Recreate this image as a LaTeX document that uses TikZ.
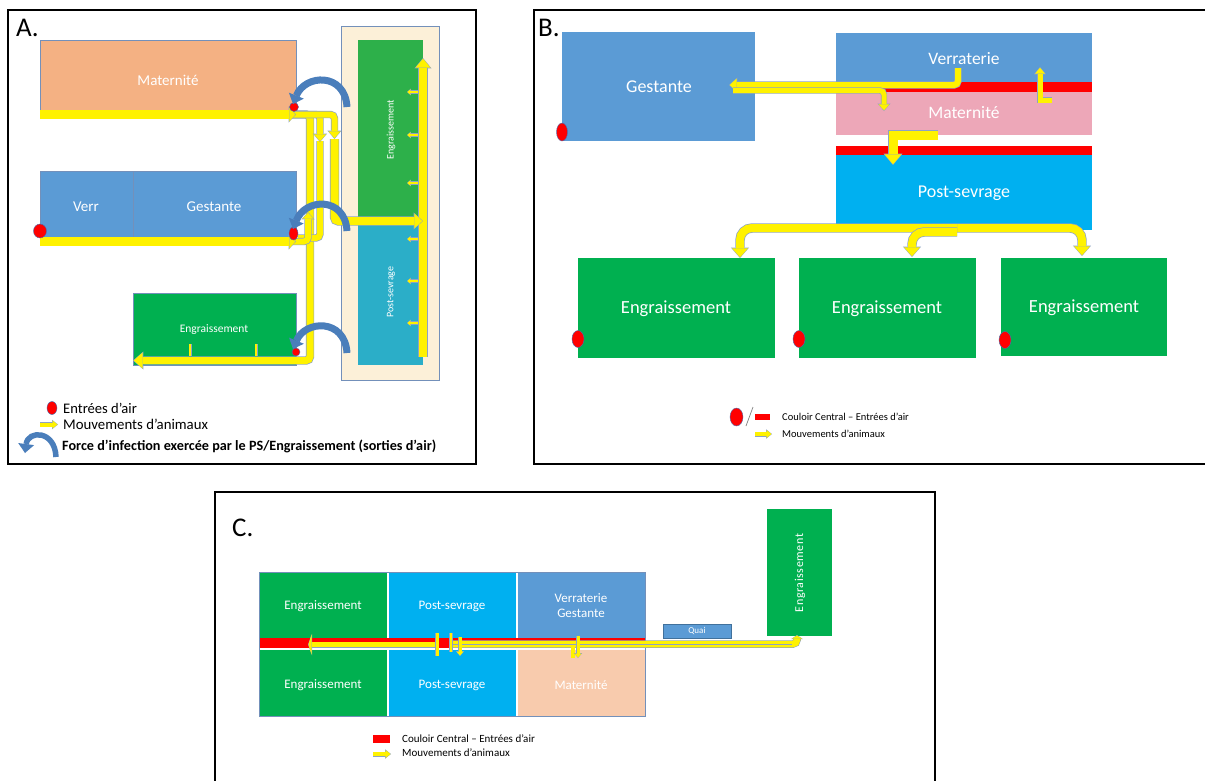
\documentclass[tikz,border=0pt]{standalone}
\usepackage{fontspec}
\setmainfont{Carlito}
\usetikzlibrary{arrows.meta}

\definecolor{cMat}{HTML}{F4B183}
\definecolor{cSow}{HTML}{5B9BD5}
\definecolor{cFat}{HTML}{00B050}
\definecolor{cBeige}{HTML}{FCF0D8}
\definecolor{cFatLight}{HTML}{2DB04A}
\definecolor{cTeal}{HTML}{2BAEC8}
\definecolor{cCyan}{HTML}{00B0F0}
\definecolor{cPink}{HTML}{EDA7B8}
\definecolor{cPeach}{HTML}{F8CBAD}
\definecolor{cRoomEdge}{HTML}{7390BA}
\definecolor{cYEdge}{HTML}{8DA2C4}
\definecolor{cInf}{HTML}{4A7EBB}
\definecolor{cDotEdge}{HTML}{4A6FB0}
\definecolor{cQuaiEdge}{HTML}{41719C}

\newcommand\fsz[1]{\fontsize{#1}{\fpeval{1.2*#1}}\selectfont}

% outlined yellow movement arrow: [outline]{band width}{head width}{head length}{path}
\newcommand\yarr[5][0.7]{%
  \pgfmathsetlengthmacro\yaW{#2pt+2*#1pt}%
  \pgfmathsetlengthmacro\yaH{#3pt+3*#1pt}%
  \pgfmathsetlengthmacro\yaL{#4pt+2*#1pt}%
  \draw[yedge, line width=\yaW, -{Triangle[width=\yaH,length=\yaL,line width=0pt]}] #5;
  \draw[ybody, line width=#2pt, shorten >=#1pt, -{Triangle[width=#3pt,length=#4pt,line width=0pt]}] #5;}
% outlined yellow band without head
\newcommand\yband[3][0.7]{%
  \pgfmathsetlengthmacro\yaW{#2pt+2*#1pt}%
  \draw[yedge, line width=\yaW] #3;
  \draw[ybody, line width=#2pt] #3;}

\tikzset{
  frame/.style={draw=black, line width=1.4pt},
  plabel/.style={anchor=base west, inner sep=0pt, font=\fsz{27}},
  room/.style={anchor=north west, inner sep=0pt, outer sep=0pt},
  roomA/.style={room, draw=cRoomEdge, line width=0.6pt},
  rtxt/.style={text=white, inner sep=0pt, align=center},
  vlabel/.style={rotate=90, text=white, inner sep=0pt},
  legend/.style={anchor=west, inner sep=0pt},
  yedge/.style={draw=cYEdge, rounded corners=4pt},
  ybody/.style={draw=yellow, rounded corners=4pt},
  airdot/.style={fill=red, draw=cDotEdge, line width=0.4pt},
  infect/.style={draw=cInf, line width=7pt, -{Triangle[width=16pt,length=9pt,line width=0pt]}},
}

\begin{document}
\begin{tikzpicture}[x=1pt,y=-1pt]
\useasboundingbox (0,0) rectangle (1205,780);
\fill[white] (0,0) rectangle (1205,780);

% ---------- panel frames ----------
\draw[frame] (8,10) rectangle (476,464);
\draw[frame] (1208,10) -- (534,10) -- (534,464) -- (1208,464);
\draw[frame] (215,783) -- (215,492) -- (935,492) -- (935,783);
\node[plabel] (labA) at (16,36) {A.};
\node[plabel] (labB) at (538,36) {B.};
\node[plabel] (labC) at (232,536) {C.};

% ================= A =================
\node[roomA, fill=cMat, minimum width=256pt, minimum height=70pt] (matA) at (40,40) {};
\node[roomA, fill=cSow, minimum width=93pt, minimum height=66pt] (verrA) at (40,171) {};
\node[roomA, fill=cSow, minimum width=163pt, minimum height=66pt] (gestA) at (133,171) {};
\node[roomA, fill=cFat, minimum width=163pt, minimum height=72pt] (engA) at (133,293) {};
\node[rtxt, font=\fsz{15}] (matAt) at (168,80) {Maternité};
\node[rtxt, font=\fsz{15}] (verrAt) at (86,207) {Verr};
\node[rtxt, font=\fsz{15}] (gestAt) at (214,207) {Gestante};
\node[rtxt, font=\fsz{11.5}] (engAt) at (214,330) {Engraissement};
\node[room, fill=cBeige, draw=cRoomEdge, line width=0.7pt, minimum width=98pt, minimum height=354pt] (annex) at (341,26) {};
\node[room, fill=cFatLight, minimum width=65pt, minimum height=181pt] (engR) at (358,40) {};
\node[room, fill=cTeal, minimum width=65pt, minimum height=144pt] (psR) at (358,221) {};
\node[vlabel, font=\fsz{10}] (engRtxt) at (391,130) {Engraissement};
\node[vlabel, font=\fsz{10}] (psRtxt) at (391,292) {Post-sevrage};

% ticks in the lower fattening room
\yband[0.4]{2.2}{(190,344) -- (190,356)}
\yband[0.4]{2.2}{(256,344) -- (256,356)}
% main aisle of the annex
\yarr{8}{15}{9}{(423,357) -- (423,58)}
\foreach \ty in {92,135,183,239,281,323}{\yarr[0.4]{2.5}{5.5}{3}{(418,\ty) -- (407,\ty)}}

\draw[airdot] (296,352) ellipse [x radius=4pt, y radius=4pt];
% transfers between rooms
\yarr{7}{16}{9}{(292,114.5) -- (310,114.5) -- (310,360.5) -- (133,360.5)}
\yband{6}{(320,141) -- (320,238) -- (298,238)}
\yarr{8}{15}{8}{(334.5,139) -- (334.5,221) -- (423,221)}
\yarr{6}{12}{7}{(292,114.5) -- (320,114.5) -- (320,142)}
\yarr{6}{12}{7}{(292,114.5) -- (334.5,114.5) -- (334.5,139)}
\yarr{6}{11}{6}{(292,241.5) -- (308,241.5) -- (308,212)}
\yarr{8.5}{14}{6}{(40,114.5) -- (296,114.5)}
\yarr{8.5}{14}{6}{(40,241.5) -- (296,241.5)}

% air inlets
\draw[airdot] (294,107) ellipse [x radius=4.5pt, y radius=4.5pt];
\draw[airdot] (293.5,233.5) ellipse [x radius=4.5pt, y radius=6.5pt];
\draw[airdot] (40,231) ellipse [x radius=6.5pt, y radius=7pt];

% exhaust air reaching the inlets
\draw[infect] (347,107) .. controls (345,72) and (305,74) .. (293,104);
\draw[infect] (347,231) .. controls (345,196) and (305,198) .. (293,229);
\draw[infect] (347,353) .. controls (345,318) and (305,320) .. (293,349);

% legend A
\draw[airdot] (52,408) ellipse [x radius=5pt, y radius=6.5pt];
\node[legend, font=\fsz{14.6}] (lgA1) at (63,408) {Entrées d’air};
\yarr[0.5]{4}{8}{5}{(40,424.5) -- (58,424.5)}
\node[legend, font=\fsz{14.8}] (lgA2) at (63,424) {Mouvements d’animaux};
\draw[infect, line width=5.5pt] (56,457) .. controls (55,430) and (28,430) .. (25,453);
\node[legend, font=\bfseries\fsz{14.2}] (lgA3) at (62,446) {Force d’infection exercée par le PS/Engraissement (sorties d’air)};

% ================= B =================
\node[room, fill=cSow, minimum width=193pt, minimum height=109pt] (gestB) at (562,32) {};
\node[room, fill=cSow, minimum width=256pt, minimum height=49pt] (verrB) at (836,33) {};
\node[room, fill=red, minimum width=256pt, minimum height=10pt] (corrB1) at (836,82) {};
\node[room, fill=cPink, minimum width=256pt, minimum height=43pt] (matB) at (836,92) {};
\node[room, fill=red, minimum width=256pt, minimum height=9pt] (corrB2) at (836,146) {};
\node[room, fill=cCyan, minimum width=256pt, minimum height=75pt] (psB) at (836,155) {};
\node[room, fill=cFat, minimum width=197pt, minimum height=100pt] (engB1) at (578,258) {};
\node[room, fill=cFat, minimum width=177pt, minimum height=100pt] (engB2) at (799,258) {};
\node[room, fill=cFat, minimum width=166pt, minimum height=98pt] (engB3) at (1001,258) {};
\node[rtxt, font=\fsz{18}] (gestBt) at (659,87) {Gestante};
\node[rtxt, font=\fsz{17.5}] (verrBt) at (964,59) {Verraterie};
\node[rtxt, font=\fsz{17.5}] (matBt) at (964,113) {Maternité};
\node[rtxt, font=\fsz{18}] (psBt) at (964,193) {Post-sevrage};
\node[rtxt, font=\fsz{18.5}] (engB1t) at (676,309) {Engraissement};
\node[rtxt, font=\fsz{18.5}] (engB2t) at (887,309) {Engraissement};
\node[rtxt, font=\fsz{18.5}] (engB3t) at (1084,308) {Engraissement};

\draw[airdot] (562,132) ellipse [x radius=5.5pt, y radius=9pt];
\draw[airdot] (578,339) ellipse [x radius=6pt, y radius=8.5pt];
\draw[airdot] (799,339) ellipse [x radius=6pt, y radius=8.5pt];
\draw[airdot] (1005,340) ellipse [x radius=6pt, y radius=8.5pt];

\yarr{6}{13}{7}{(958,68) -- (958,85) -- (729,85)}
\yarr{5}{11}{6}{(733,90.5) -- (884,90.5) -- (884,111)}
\yarr{5}{10}{6}{[rounded corners=0pt] (1052,100) -- (1040,100) -- (1040,67)}
\yarr{9}{17}{10}{[rounded corners=0pt] (938,135) -- (893,135) -- (893,165)}
\yarr{8}{16}{9}{[rounded corners=12pt] (957,228) -- (1082,228) -- (1082,256)}
\yarr{8}{16}{9}{[rounded corners=12pt] (957,228) -- (740,228) -- (740,258)}
\yarr{8}{16}{9}{[rounded corners=12pt] (957,232) -- (912,232) -- (912,257)}

% legend B
\draw[airdot] (736.5,417) ellipse [x radius=6.5pt, y radius=9pt];
\draw[gray, line width=0.7pt] (746,426) -- (753,407);
\fill[red] (755,414) rectangle (770,420);
\node[legend, font=\fsz{10.5}] (lgB1) at (782,417) {Couloir Central – Entrées d’air};
\yarr[0.5]{4}{8}{5}{(755,434) -- (772,434)}
\node[legend, font=\fsz{10.5}] (lgB2) at (782,434) {Mouvements d’animaux};

% ================= C =================
\node[room, fill=cFat, minimum width=127pt, minimum height=65pt] (engC1) at (260,573) {};
\node[room, fill=cCyan, minimum width=127pt, minimum height=65pt] (psC1) at (389,573) {};
\node[room, fill=cSow, minimum width=127pt, minimum height=65pt] (vgC) at (518,573) {};
\node[room, fill=red, minimum width=385pt, minimum height=10pt] (corrC) at (260,638) {};
\node[room, fill=cFat, minimum width=127pt, minimum height=66pt] (engC2) at (260,650) {};
\node[room, fill=cCyan, minimum width=127pt, minimum height=66pt] (psC2) at (389,650) {};
\node[room, fill=cPeach, minimum width=127pt, minimum height=66pt] (matC) at (518,650) {};
\draw[cRoomEdge, line width=0.9pt] (259.5,572.5) rectangle (645.5,716.5);
\node[rtxt, font=\fsz{13}] (engC1t) at (323,606) {Engraissement};
\node[rtxt, font=\fsz{13}] (psC1t) at (452,606) {Post-sevrage};
\node[rtxt, font=\fontsize{13}{15}\selectfont] (vgCt) at (581,606) {Verraterie\\Gestante};
\node[rtxt, font=\fsz{13}] (engC2t) at (323,685) {Engraissement};
\node[rtxt, font=\fsz{13}] (psC2t) at (452,685) {Post-sevrage};
\node[rtxt, font=\fsz{13}] (matCt) at (581,685) {Maternité};
\node[room, fill=cSow, draw=cQuaiEdge, line width=0.6pt, minimum width=68pt, minimum height=14pt] (quai) at (663,624) {};
\node[rtxt, font=\fsz{9}] (quait) at (697,631) {Quai};
\node[room, fill=cFat, minimum width=65pt, minimum height=127pt] (engC3) at (767,509) {};
\node[vlabel, font=\fsz{12}\addfontfeature{LetterSpace=5}] (engC3txt) at (800,573) {Engraissement};

% movements along the central corridor
\yarr[0.5]{5}{20}{3}{(437,644.5) -- (308,644.5)}
\yband[0.5]{3}{(437,633) -- (437,656)}
\yarr[0.5]{6.5}{10}{3}{(451,644) -- (797,644) -- (797,635)}
\draw[cYEdge, line width=0.5pt] (451,644) -- (792,644);
\yband[0.5]{2.5}{(451,633) -- (451,652)}
\yarr[0.4]{3}{7}{4}{(460,637) -- (460,656)}
\yband[0.3]{4}{(573,647) -- (573,658)}
\yarr[0.4]{3}{7}{4}{(578,636) -- (578,658)}

% legend C
\fill[red] (373,735) rectangle (390,743);
\node[legend, font=\fsz{11}] (lgC1) at (402,739) {Couloir Central – Entrées d’air};
\yarr[0.5]{4}{8}{5}{(373,754) -- (391,754)}
\node[legend, font=\fsz{11}] (lgC2) at (402,753) {Mouvements d’animaux};
\end{tikzpicture}
\end{document}
